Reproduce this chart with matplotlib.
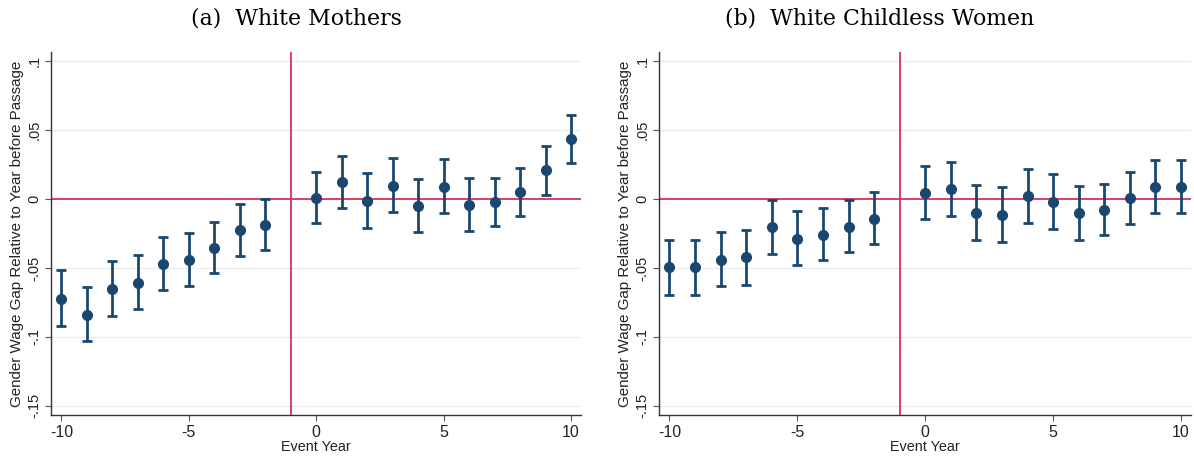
import matplotlib
matplotlib.use("Agg")
import matplotlib.pyplot as plt
import numpy as np

event_years = [-10, -9, -8, -7, -6, -5, -4, -3, -2, 0, 1, 2, 3, 4, 5, 6, 7, 8, 9, 10]

mothers_coef = [-0.0724, -0.0838, -0.0651, -0.0608, -0.0472, -0.0443, -0.0354, -0.0228, -0.0186,
                0.0010, 0.0121, -0.0012, 0.0097, -0.0048, 0.0090, -0.0041, -0.0019, 0.0048, 0.0208, 0.0433]
mothers_hi = [-0.0518, -0.0639, -0.0450, -0.0409, -0.0276, -0.0245, -0.0167, -0.0039, 0.0002,
              0.0199, 0.0312, 0.0186, 0.0295, 0.0148, 0.0288, 0.0155, 0.0155, 0.0225, 0.0383, 0.0610]
mothers_lo = [-0.0918, -0.1027, -0.0847, -0.0799, -0.0663, -0.0634, -0.0538, -0.0416, -0.0373,
              -0.0177, -0.0065, -0.0208, -0.0094, -0.0240, -0.0102, -0.0230, -0.0194, -0.0123, 0.0031, 0.0259]

childless_coef = [-0.0496, -0.0496, -0.0439, -0.0424, -0.0205, -0.0287, -0.0258, -0.0202, -0.0145,
                  0.0046, 0.0075, -0.0101, -0.0118, 0.0022, -0.0022, -0.0104, -0.0077, 0.0005, 0.0089, 0.0089]
childless_hi = [-0.0296, -0.0296, -0.0241, -0.0224, -0.0010, -0.0084, -0.0065, -0.0010, 0.0048,
                0.0239, 0.0270, 0.0101, 0.0084, 0.0219, 0.0178, 0.0092, 0.0111, 0.0198, 0.0280, 0.0280]
childless_lo = [-0.0694, -0.0699, -0.0634, -0.0622, -0.0398, -0.0482, -0.0441, -0.0383, -0.0328,
                -0.0147, -0.0120, -0.0299, -0.0311, -0.0173, -0.0217, -0.0296, -0.0263, -0.0178, -0.0101, -0.0101]

titles = ["(a)  White Mothers", "(b)  White Childless Women"]
ylabel = "Gender Wage Gap Relative to Year before Passage"
xlabel = "Event Year"
yticks = [-0.15, -0.1, -0.05, 0, 0.05, 0.1]
yticklabels = ["-.15", "-.1", "-.05", "0", ".05", ".1"]
xticks = [-10, -5, 0, 5, 10]

navy = "#1a476f"
red = "#d7315e"

plt.rcParams['font.family'] = ['Liberation Sans', 'DejaVu Sans']

fig = plt.figure(figsize=(11.94, 4.62), dpi=100)
W, H = 1194, 462
positions = [
    (51 / W, 1 - 415 / H, (581 - 51) / W, (415 - 52) / H),
    (659 / W, 1 - 415 / H, (1191 - 659) / W, (415 - 52) / H),
]
title_x = [296 / W, 880 / W]

series = [(mothers_coef, mothers_lo, mothers_hi), (childless_coef, childless_lo, childless_hi)]

for i, (pos, (c, lo, hi)) in enumerate(zip(positions, series)):
    ax = fig.add_axes(pos)
    c = np.array(c); lo = np.array(lo); hi = np.array(hi)
    ax.set_xlim(-10.41, 10.39)
    ax.set_ylim(-0.1566, 0.1066)
    for yv in yticks:
        ax.axhline(yv, color="#eaedf0", lw=1.0, zorder=0)
    ax.axhline(0, color=red, lw=1.3, zorder=1)
    ax.axvline(-1, color=red, lw=1.3, zorder=1)
    ax.errorbar(event_years, c, yerr=[c - lo, hi - c], fmt='o', color=navy,
                ecolor=navy, elinewidth=2.0, capsize=3.5, capthick=2.0,
                markersize=7, zorder=3)
    ax.set_yticks(yticks)
    ax.set_yticklabels(yticklabels, rotation=90, va='center', fontsize=10.5)
    ax.set_xticks(xticks)
    ax.set_xticklabels([str(t) for t in xticks], fontsize=11.5)
    ax.tick_params(axis='both', direction='out', length=4, width=0.8, color='#555555',
                   labelcolor='#222222', pad=3)
    for s in ['top', 'right']:
        ax.spines[s].set_visible(False)
    for s in ['left', 'bottom']:
        ax.spines[s].set_color('#333333')
        ax.spines[s].set_linewidth(1.0)
    ax.set_ylabel(ylabel, fontsize=10.9, color='#222222', labelpad=2)
    ax.set_xlabel(xlabel, fontsize=10.4, color='#222222', labelpad=0)
    fig.text(title_x[i], 1 - 18 / H, titles[i], ha='center', va='center',
             fontsize=15.8, family=['DejaVu Serif'])

fig.savefig("out.png", dpi=100, facecolor='white')
